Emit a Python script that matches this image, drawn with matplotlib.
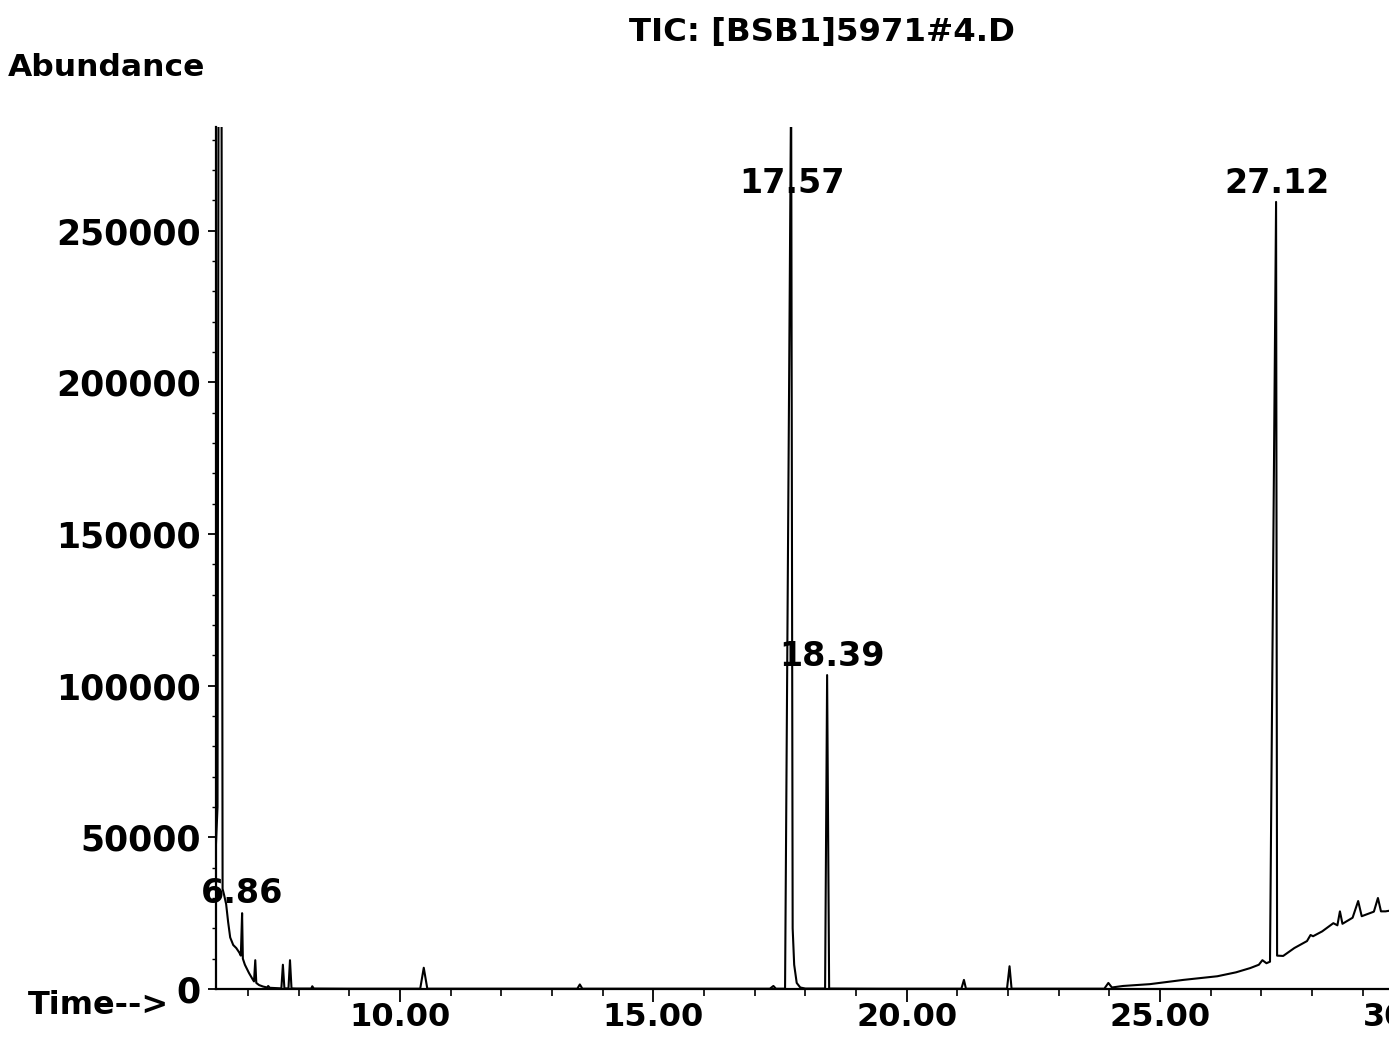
import matplotlib
matplotlib.use("Agg")
import matplotlib.pyplot as plt
from matplotlib.ticker import MultipleLocator, FormatStrFormatter

# TIC trace (time in min, abundance in counts)
time_min = [
    6.37, 6.40, 6.43, 6.47, 6.50, 6.53, 6.57, 6.61, 6.65, 6.71, 6.77, 6.83,
    6.86, 6.885, 6.90, 6.94, 7.02, 7.10, 7.12, 7.145, 7.165, 7.22, 7.30,
    7.38, 7.40, 7.43, 7.55, 7.66, 7.69, 7.72, 7.80, 7.83, 7.86, 7.95, 8.25,
    8.27, 8.30, 9.00, 9.90, 10.40, 10.47, 10.54, 11.50, 13.50, 13.55, 13.60,
    17.30, 17.37, 17.42, 17.60, 17.72, 17.75, 17.78, 17.83, 17.90, 18.00,
    18.39, 18.43, 18.47, 19.50, 21.08, 21.13, 21.17, 21.98, 22.03, 22.07,
    23.90, 23.98, 24.05, 24.27, 24.80, 25.46, 26.13, 26.50, 26.78, 26.95,
    27.02, 27.10, 27.17, 27.29, 27.31, 27.43, 27.65, 27.90, 27.97, 28.02,
    28.20, 28.42, 28.50, 28.55, 28.60, 28.80, 28.91, 28.98, 29.14, 29.22,
    29.30, 29.36, 29.45, 29.60,
]
abundance = [
    48000, 60000, 420000, 420000, 33000, 31000, 28000, 22000, 17000, 14500,
    13500, 12000, 11000, 25000, 10000, 8000, 5300, 3000, 2500, 9500, 2000,
    1300, 800, 500, 1000, 400, 300, 200, 8000, 200, 200, 9500, 200, 150, 150,
    900, 150, 100, 100, 100, 7000, 100, 100, 100, 1500, 100, 100, 1000, 100,
    100, 300000, 20000, 8000, 2000, 500, 150, 150, 103500, 150, 100, 100,
    3000, 100, 100, 7500, 100, 100, 2000, 500, 1000, 1600, 3000, 4200, 5500,
    6900, 8000, 9500, 8500, 9000, 259500, 11000, 10900, 13500, 15800, 17800,
    17400, 19000, 21700, 21000, 25600, 21500, 23500, 29000, 24000, 25000,
    25500, 30000, 25600, 25600, 26000,
]

peak_labels = ["6.86", "17.57", "18.39", "27.12"]
peak_label_x = [6.89, 17.74, 18.52, 27.30]
peak_label_y = [28300, 262500, 106500, 262500]

title = "TIC: [BSB1]5971#4.D"

plt.rcParams['font.family'] = 'DejaVu Sans'
plt.rcParams['font.weight'] = 'bold'

fig = plt.figure(figsize=(13.89, 10.41), dpi=100)
# axes run past the right edge so the 30.00 label is cut like the printout
ax = fig.add_axes([216 / 1389, 52 / 1041, (1413.4 - 216) / 1389, 862 / 1041])

for lab, lx, ly in zip(peak_labels, peak_label_x, peak_label_y):
    ax.text(lx, ly, lab, ha='center', va='baseline', fontsize=24,
            fontweight='bold', zorder=1)

ax.plot(time_min, abundance, color='black', lw=1.5, zorder=3)

ax.set_xlim(6.37, 30.0)
ax.set_ylim(0, 284200)

ax.xaxis.set_major_locator(MultipleLocator(5))
ax.xaxis.set_minor_locator(MultipleLocator(1))
ax.xaxis.set_major_formatter(FormatStrFormatter('%.2f'))
ax.yaxis.set_major_locator(MultipleLocator(50000))
ax.yaxis.set_minor_locator(MultipleLocator(10000))
ax.yaxis.set_major_formatter(FormatStrFormatter('%d'))

ax.tick_params(axis='x', which='major', length=9.5, width=1.3, pad=0,
               labelsize=23, direction='out')
ax.tick_params(axis='x', which='minor', length=5, width=1.2, direction='out')
ax.tick_params(axis='y', which='major', length=6, width=1.3, pad=5,
               labelsize=25, direction='out')
ax.tick_params(axis='y', which='minor', length=3, width=1.0, direction='out')
for lbl in ax.get_xticklabels() + ax.get_yticklabels():
    lbl.set_fontweight('bold')

ax.spines['top'].set_visible(False)
ax.spines['right'].set_visible(False)
ax.spines['left'].set_linewidth(1.6)
ax.spines['bottom'].set_linewidth(1.6)

fig.text(822 / 1389, 1 - 33 / 1041, title, ha='center', va='center',
         fontsize=23.3, fontweight='bold')
fig.text(8 / 1389, 1 - 68 / 1041, "Abundance", ha='left', va='center',
         fontsize=22.6, fontweight='bold')
fig.text(28 / 1389, 1 - 1005 / 1041, "Time-->", ha='left', va='center',
         fontsize=23, fontweight='bold')

fig.savefig("out.png", dpi=100)
